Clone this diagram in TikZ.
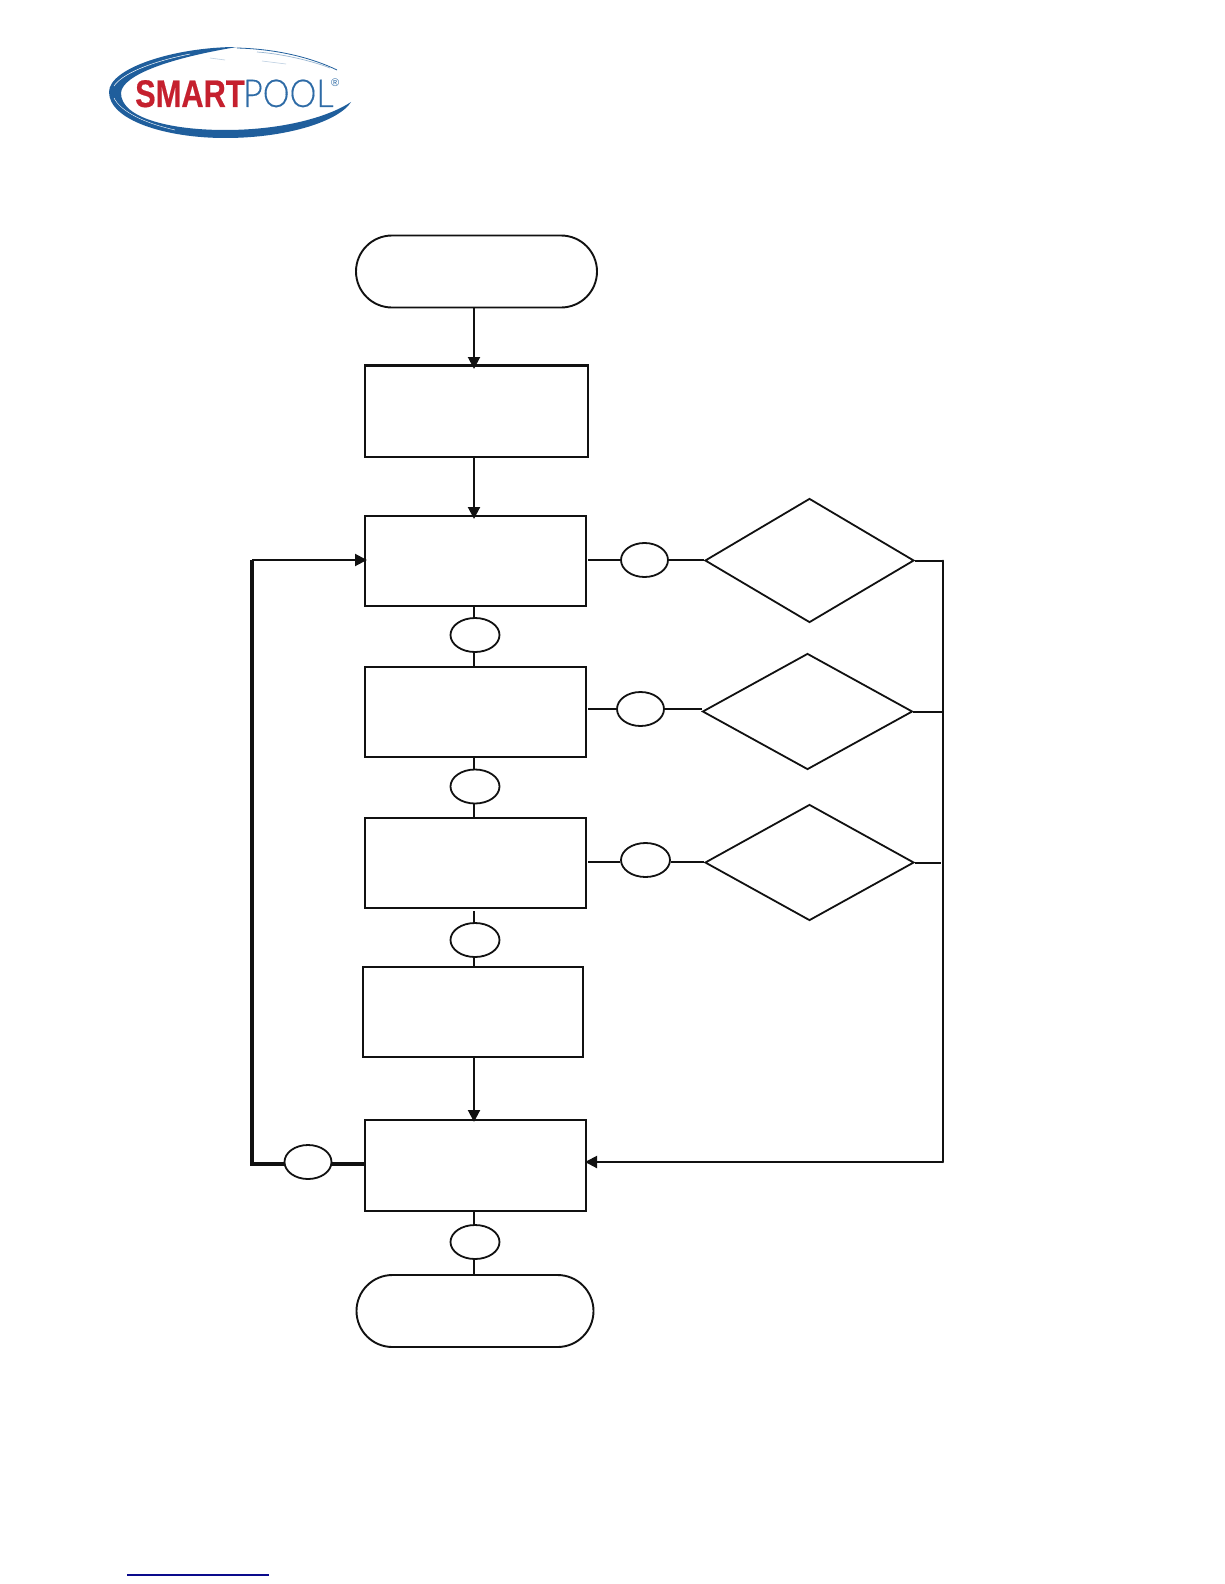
\documentclass[tikz,border=0pt]{standalone}
\usepackage{fontspec}
\setmainfont{Liberation Sans}
\newfontfamily\smartfont[FakeBold=0.5]{Liberation Sans Bold}
\newfontfamily\poolfont[FakeBold=0.25]{Lato Light}
\usetikzlibrary{shapes.geometric,arrows.meta,calc}
\definecolor{ink}{HTML}{111111}
\definecolor{logoblue}{HTML}{1F5E9C}
\definecolor{logored}{HTML}{C5202E}
\definecolor{poolblue}{HTML}{2E6BA6}
\definecolor{linkblue}{HTML}{0A0A8C}
\tikzset{
  flowbox/.style={draw=ink,line width=2pt,rectangle,inner sep=0pt},
  stadium/.style={draw=ink,line width=1.9pt,rectangle,rounded corners=36pt,inner sep=0pt},
  label oval/.style={draw=ink,line width=1.8pt,ellipse,inner sep=0pt,minimum height=34pt},
  choice/.style={draw=ink,line width=1.8pt,diamond,inner sep=0pt},
  wire/.style={draw=ink,line width=2pt},
  heavy wire/.style={draw=ink,line width=3.2pt},
  flow arrow/.style={draw=ink,line width=2pt,-{Triangle[length=12pt,width=12pt]}},
}
\begin{document}
\begin{tikzpicture}[x=1pt,y=-1pt]
\useasboundingbox (0,0) rectangle (1224,1584);
\fill[white] (0,0) rectangle (1224,1584);
% logo
\fill[logoblue] (237,47) .. controls (175,47) and (109,68) .. (109,92)
  .. controls (109,120) and (165,138) .. (225,138)
  .. controls (290,138) and (340,120) .. (351,102)
  .. controls (330,116) and (285,130) .. (225,130)
  .. controls (170,130) and (121,118) .. (121,93)
  .. controls (122,75) and (170,58) .. (237,47) -- cycle;
\draw[white,line width=0.5pt] (114,86) .. controls (122,74) and (150,62) .. (190,54);
\draw[white,line width=0.4pt] (114,98) .. controls (120,110) and (140,122) .. (175,130);
\draw[logoblue,line width=0.8pt] (237,48) .. controls (275,49) and (310,57) .. (337,70);
\draw[logoblue!45,line width=0.7pt] (257,52) .. controls (285,54) and (315,62) .. (330,68);
\draw[logoblue!30,line width=0.6pt] (210,58) -- (225,60) (262,61) -- (286,64);
\node[anchor=base west,inner sep=0pt,text=logored,font=\smartfont\fontsize{38.5}{38}\selectfont,xscale=0.8] (smart) at (135,107) {SMART};
\node[anchor=base west,inner sep=0pt,text=poolblue,font=\poolfont\fontsize{38.5}{38}\selectfont,xscale=0.88] (pool) at (243,107) {POOL};
\node[anchor=base west,inner sep=0pt,text=poolblue,font=\fontsize{11}{11}\selectfont] (reg) at (331,87) {\textregistered};
% flow nodes
\node[stadium,minimum width=241pt,minimum height=72pt] (start) at (476.5,271.5) {};
\node[flowbox,minimum width=223pt,minimum height=91pt] (box1) at (476.5,411.5) {};
\node[flowbox,minimum width=221pt,minimum height=90pt] (box2) at (475.5,561) {};
\node[flowbox,minimum width=221pt,minimum height=90pt] (box3) at (475.5,712) {};
\node[flowbox,minimum width=221pt,minimum height=90pt] (box4) at (475.5,863) {};
\node[flowbox,minimum width=220pt,minimum height=90pt] (box5) at (473,1012) {};
\node[flowbox,minimum width=221pt,minimum height=91pt] (box6) at (475.5,1165.5) {};
\node[stadium,minimum width=237pt,minimum height=72pt] (end) at (475,1311) {};
\node[label oval,minimum width=49pt] (ev1) at (475,635) {};
\node[label oval,minimum width=49pt] (ev2) at (475,786.5) {};
\node[label oval,minimum width=49pt] (ev3) at (475,940) {};
\node[label oval,minimum width=49pt] (ev4) at (475,1242) {};
\node[label oval,minimum width=47pt] (el) at (308,1162) {};
\node[label oval,minimum width=47pt] (e1) at (644.5,560) {};
\node[label oval,minimum width=47pt] (e2) at (640.5,709) {};
\node[label oval,minimum width=49pt] (e3) at (645.5,860) {};
\node[choice,minimum width=209pt,minimum height=124pt,shape aspect=1.69] (d1) at (809.5,560.5) {};
\node[choice,minimum width=210pt,minimum height=116pt,shape aspect=1.81] (d2) at (807.5,711.5) {};
\node[choice,minimum width=209pt,minimum height=116pt,shape aspect=1.8] (d3) at (809.5,862.5) {};
% helper coordinates
\coordinate (vx) at (474,0);
\coordinate (bus) at (943,0);
\coordinate (lane) at (252,0);
\coordinate (s1) at (588,560);
\coordinate (s2) at (588,709);
\coordinate (s3) at (588,862);
\coordinate (in2) at (365,560);
\coordinate (in6) at (586,1162);
\coordinate (out6) at (365,1164);
% box 1 carries a heavier top edge
\draw[heavy wire,line width=2.8pt] (box1.north west) -- (box1.north east);
% connectors
\draw[flow arrow,shorten >=-4pt] (vx |- start.south) -- (vx |- box1.north);
\draw[flow arrow,shorten >=-4pt] (vx |- box1.south) -- (vx |- box2.north);
\draw[flow arrow,shorten >=-3pt] (vx |- box5.south) -- (vx |- box6.north);
\draw[wire] (vx |- box2.south) -- (vx |- ev1.north);
\draw[wire] (vx |- ev1.south) -- (vx |- box3.north);
\draw[wire] (vx |- box3.south) -- (vx |- ev2.north);
\draw[wire] (vx |- ev2.south) -- (vx |- box4.north);
\draw[wire] ($(vx |- box4.south)+(0,2)$) -- (vx |- ev3.north);
\draw[wire] (vx |- ev3.south) -- (vx |- box5.north);
\draw[wire] (vx |- box6.south) -- (vx |- ev4.north);
\draw[wire] (vx |- ev4.south) -- (vx |- end.north);
\draw[wire] (s1) -- (e1.west);
\draw[wire] (e1.east) -- (e1 -| d1.west);
\draw[wire] (s2) -- (e2.west);
\draw[wire] (e2.east) -- (e2 -| d2.west);
\draw[wire] (s3) -- (s3 -| e3.west);
\draw[wire] (s3 -| e3.east) -- (s3 -| d3.west);
\draw[wire] (d1.east) -- (bus |- d1.east);
\draw[wire] (d2.east) -- (bus |- d2.east);
\draw[wire] (d3.east) -- ($(bus |- d3.east)+(-2,0)$);
\draw[wire,line cap=round] (bus |- d1.east) -- (bus |- in6);
\draw[flow arrow,shorten >=-1pt] (bus |- in6) -- (in6);
\draw[heavy wire] (out6) -- (el.east |- out6);
\draw[heavy wire] (el.west |- out6) -- (lane |- out6) -- (lane |- in2);
\draw[flow arrow,shorten >=-2pt] (lane |- in2) -- (in2);
% footer link rule
\coordinate (linkl) at (127,1575);
\coordinate (linkr) at (269,1575);
\draw[linkblue,line width=1.3pt] (linkl) -- (linkr);
\end{tikzpicture}
\end{document}
